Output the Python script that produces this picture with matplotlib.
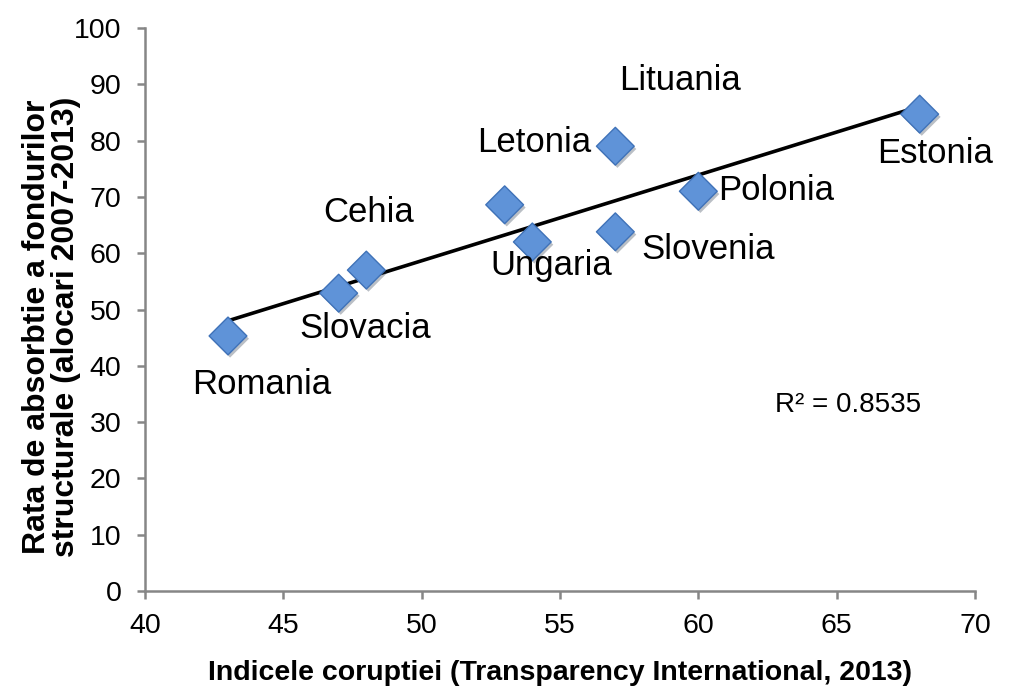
import numpy as np
import matplotlib
matplotlib.use("Agg")
import matplotlib.pyplot as plt
import matplotlib.patheffects as pe

plt.rcParams['font.family'] = ['Liberation Sans', 'DejaVu Sans']

tari = ['Romania', 'Slovacia', 'Cehia', 'Letonia', 'Ungaria', 'Lituania', 'Slovenia', 'Polonia', 'Estonia']
coruptie = [43, 47, 48, 53, 54, 57, 57, 60, 68]
absorbtie = [45.3, 52.9, 57.0, 68.6, 62.0, 79.0, 63.8, 71.0, 84.7]

# pozitia etichetelor fata de punct (in puncte tipografice)
offset = {
    'Romania': (24.5, -34.6), 'Slovacia': (19.4, -25.2), 'Cehia': (1.4, 41.8),
    'Letonia': (21.6, 44.6), 'Ungaria': (13.7, -17.3), 'Lituania': (46.8, 47.5),
    'Slovenia': (67, -13), 'Polonia': (56, 0.7), 'Estonia': (10.8, -28),
}

fig = plt.figure(figsize=(10.09, 6.94), dpi=100)
ax = fig.add_axes([145/1009, 1-591/694, 830/1009, 563/694])

x = np.array(coruptie)
y = np.array(absorbtie)
panta, inter = np.polyfit(x, y, 1)
xs = np.array([x.min(), x.max()])
ax.plot(xs, panta*xs + inter, color='black', lw=2.6, zorder=2)

ax.scatter(x, y, marker='D', s=370, c='#5f93d8', edgecolors='#3f72b8', linewidths=1.0, zorder=3,
           path_effects=[pe.SimplePatchShadow(offset=(1.5, -2), alpha=0.3), pe.Normal()])

for t, xi, yi in zip(tari, coruptie, absorbtie):
    ax.annotate(t, (xi, yi), xytext=offset[t], textcoords='offset points',
                ha='center', va='center', fontsize=25)

ax.text(65.4, 33, 'R² = 0.8535', fontsize=20, ha='center', va='center')

ax.set_xlim(40, 70)
ax.set_ylim(0, 100)
ax.set_xticks(range(40, 71, 5))
ax.set_yticks(range(0, 101, 10))
ax.tick_params(labelsize=20.5, length=6, width=1.8, color='#868686', direction='out')
ax.tick_params(axis='x', pad=10)
ax.tick_params(axis='y', pad=11)
for s in ['top', 'right']:
    ax.spines[s].set_visible(False)
for s in ['left', 'bottom']:
    ax.spines[s].set_color('#868686')
    ax.spines[s].set_linewidth(1.8)

ax.set_xlabel('Indicele coruptiei (Transparency International, 2013)', fontsize=20.5, fontweight='bold', labelpad=15)
ax.set_ylabel('Rata de absorbtie a fondurilor\nstructurale (alocari 2007-2013)', fontsize=23,
              fontweight='bold', linespacing=0.95)
ax.yaxis.set_label_coords(-0.077, 0.47)

fig.savefig('out.png', dpi=100)
